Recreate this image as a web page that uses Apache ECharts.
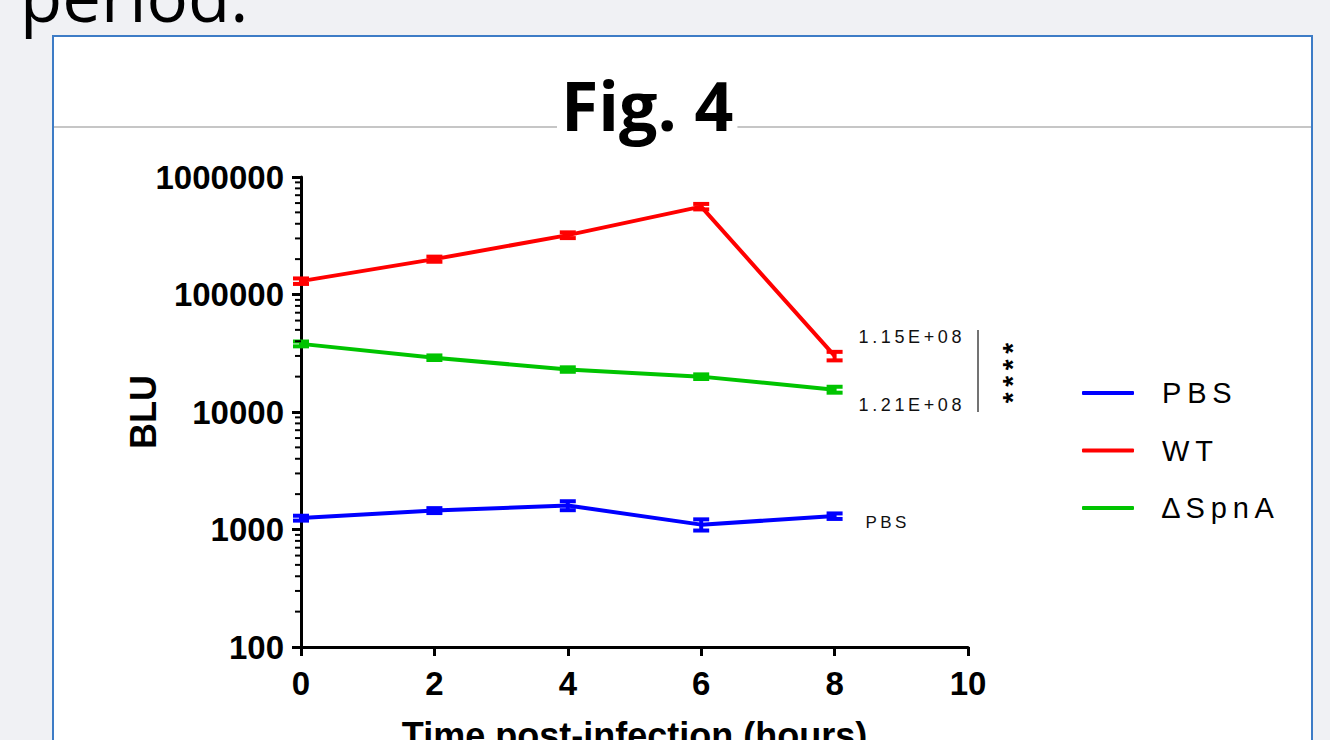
<!DOCTYPE html>
<html>
<head>
<meta charset="utf-8">
<script src="https://cdn.jsdelivr.net/npm/echarts@6/dist/echarts.min.js"></script>
<style>
html,body{margin:0;padding:0;background:#f0f1f4;}
#chart{width:1330px;height:740px;}
</style>
</head>
<body>
<div id="chart"></div>
<script>
// ---- data ----
const hours = [0, 2, 4, 6, 8];
const pbsValues = [1250, 1450, 1600, 1100, 1300];
const pbsErr = [60, 70, 140, 120, 70];
const wtValues = [130000, 200000, 320000, 560000, 30000];
const wtErr = [7000, 10000, 18000, 30000, 2500];
const spnaValues = [38000, 29000, 23000, 20000, 15500];
const spnaErr = [1800, 1300, 1000, 900, 900];
const seriesNames = ['PBS', 'WT', '\u2206SpnA'];
const endLabels = ['PBS', '1.15E+08', '1.21E+08'];
const yTickLabels = ['100', '1000', '10000', '100000', '1000000'];
const xTicks = [0, 2, 4, 6, 8, 10];
const significance = '****';

const colors = ['#0000ff', '#ff0000', '#00c400'];
const spaced = s => s.split('').join('\u2009');

// minor log ticks 2..9 per decade
const minorTicks = [];
for (let d = 100; d < 1000000; d *= 10) {
  for (let k = 2; k <= 9; k++) minorTicks.push([0, k * d]);
}

function errData(vals, errs) {
  return hours.map((h, i) => [h, vals[i], vals[i] - errs[i], vals[i] + errs[i]]);
}

function errRender(color) {
  return function (params, api) {
    const x = api.value(0);
    const lo = api.coord([x, api.value(2)]);
    const hi = api.coord([x, api.value(3)]);
    const w = 8;
    const st = { stroke: color, lineWidth: 4 };
    return {
      type: 'group',
      children: [
        { type: 'line', shape: { x1: lo[0], y1: lo[1], x2: hi[0], y2: hi[1] }, style: st },
        { type: 'line', shape: { x1: lo[0] - w, y1: lo[1], x2: lo[0] + w, y2: lo[1] }, style: st },
        { type: 'line', shape: { x1: hi[0] - w, y1: hi[1], x2: hi[0] + w, y2: hi[1] }, style: st }
      ]
    };
  };
}

const chart = echarts.init(document.getElementById('chart'), null, { renderer: 'svg' });
const FONT = 'Liberation Sans, Arial, sans-serif';

const lineSeries = [pbsValues, wtValues, spnaValues].map((vals, i) => ({
  name: seriesNames[i],
  type: 'line',
  data: hours.map((h, j) => [h, vals[j]]),
  symbol: 'none',
  lineStyle: { color: colors[i], width: 4 },
  itemStyle: { color: colors[i] },
  z: 3,
  endLabel: {
    show: true,
    formatter: spaced(endLabels[i]),
    distance: i === 0 ? 31 : 24,
    offset: i === 0 ? [0, 6] : (i === 1 ? [0, -19] : [0, 15]),
    color: '#111',
    fontSize: i === 0 ? 17 : 18,
    fontFamily: FONT
  }
}));

const errSeries = [[pbsValues, pbsErr], [wtValues, wtErr], [spnaValues, spnaErr]].map((p, i) => ({
  name: seriesNames[i],
  type: 'custom',
  data: errData(p[0], p[1]),
  renderItem: errRender(colors[i]),
  encode: { x: 0, y: [1, 2, 3] },
  z: 4,
  silent: true
}));

const option = {
  backgroundColor: '#f0f1f4',
  animation: false,
  title: {
    text: 'Fig. 4',
    left: 557,
    top: 70,
    padding: [0, 4],
    backgroundColor: '#ffffff',
    textStyle: { fontSize: 68, fontWeight: 'bold', color: '#000', fontFamily: 'Open Sans, ' + FONT }
  },
  graphic: [
    { type: 'rect', z: -10, shape: { x: 53, y: 36, width: 1259, height: 800 },
      style: { fill: '#ffffff', stroke: '#3d7cc6', lineWidth: 2 } },
    { type: 'line', z: -9, shape: { x1: 54, y1: 127, x2: 1311, y2: 127 },
      style: { stroke: '#c6c6c6', lineWidth: 2 } },
    { type: 'text', z: -8, style: { text: 'period.', x: 20, y: -40, font: '69px "Open Sans", sans-serif',
      fill: '#000' } },
    { type: 'line', shape: { x1: 978, y1: 330, x2: 978, y2: 412 },
      style: { stroke: '#444', lineWidth: 1.5 } },
    { type: 'text', x: 1012, y: 373, rotation: Math.PI / 2,
      style: { text: spaced(significance), align: 'center', verticalAlign: 'middle',
      font: 'bold 28px ' + FONT, fill: '#000' } }
  ],
  legend: {
    orient: 'vertical',
    left: 1082,
    top: 378,
    padding: 0,
    itemWidth: 52,
    itemHeight: 4,
    itemGap: 27.5,
    icon: 'roundRect',
    data: seriesNames,
    formatter: n => spaced(n),
    textStyle: { fontSize: 29, color: '#000', fontFamily: FONT, lineHeight: 30, padding: [0, 0, 0, 23] }
  },
  grid: { left: 301, top: 177, width: 667, height: 470, containLabel: false, outerBoundsMode: 'none' },
  xAxis: {
    type: 'value',
    min: 0, max: 10, interval: 2,
    name: 'Time post-infection (hours)',
    nameLocation: 'middle',
    nameGap: 70,
    nameMoveOverlap: false,
    nameTextStyle: { fontSize: 36, fontWeight: 'bold', color: '#000', fontFamily: FONT },
    axisLine: { show: true, lineStyle: { color: '#000', width: 3 } },
    axisTick: { show: true, length: 9, lineStyle: { color: '#000', width: 3 } },
    axisLabel: { margin: 20, fontSize: 33, fontWeight: 'bold', color: '#000', fontFamily: FONT,
      formatter: v => String(xTicks.find(t => t === v) ?? v) },
    splitLine: { show: false }
  },
  yAxis: {
    type: 'log',
    logBase: 10,
    min: 100, max: 1000000,
    name: 'BLU',
    nameLocation: 'middle',
    nameGap: 140,
    nameMoveOverlap: false,
    nameTextStyle: { fontSize: 36, fontWeight: 'bold', color: '#000', fontFamily: FONT },
    axisLine: { show: true, lineStyle: { color: '#000', width: 3 } },
    axisTick: { show: true, length: 9, lineStyle: { color: '#000', width: 3 } },
    axisLabel: { margin: 17, fontSize: 33, fontWeight: 'bold', color: '#000', fontFamily: FONT,
      formatter: v => yTickLabels[Math.round(Math.log10(v)) - 2] },
    splitLine: { show: false }
  },
  series: [
    ...lineSeries,
    ...errSeries,
    {
      type: 'custom',
      name: 'minorTicks',
      data: minorTicks,
      silent: true,
      z: 5,
      renderItem: function (params, api) {
        const p = api.coord([api.value(0), api.value(1)]);
        return { type: 'line', shape: { x1: p[0] - 6, y1: p[1], x2: p[0], y2: p[1] },
          style: { stroke: '#000', lineWidth: 2 } };
      }
    }
  ]
};
chart.setOption(option);
</script>
</body>
</html>
